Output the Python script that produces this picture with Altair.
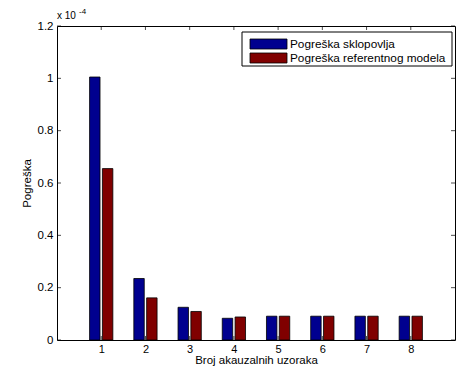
import altair as alt
import pandas as pd

categories = [1, 2, 3, 4, 5, 6, 7, 8]
series_names = ["Pogreška sklopovlja", "Pogreška referentnog modela"]
hw_error = [1.005, 0.235, 0.125, 0.083, 0.091, 0.091, 0.091, 0.091]
ref_error = [0.655, 0.161, 0.109, 0.088, 0.091, 0.091, 0.091, 0.091]
y_ticks = [0, 0.2, 0.4, 0.6, 0.8, 1.0, 1.2]
colors = ["#00008F", "#800000"]

W, H = 398, 314
FONT = "Liberation Sans"
FS = 11.5

rows = []
for k, a, b in zip(categories, hw_error, ref_error):
    rows.append({"k": k, "series": series_names[0], "value": a})
    rows.append({"k": k, "series": series_names[1], "value": b})
df = pd.DataFrame(rows)

xscale = alt.Scale(domain=[0, 9], nice=False, zero=False)
yscale = alt.Scale(domain=[0, 1.2], nice=False)
xaxis = alt.Axis(values=categories, title="Broj akauzalnih uzoraka",
                 labelPadding=3, labelFontSize=11, titleX=199, titleY=23.5,
                 titleBaseline="alphabetic", titleAlign="center")
yaxis = alt.Axis(values=y_ticks, format="~g", title="Pogreška",
                 labelPadding=4, titleX=-30, titleY=157, titleAngle=-90,
                 titleBaseline="middle", titleAlign="center")

bars = alt.Chart(df).transform_calculate(
    off=f"datum.series === '{series_names[0]}' ? -0.145 : 0.145"
).transform_calculate(
    x0="datum.k + datum.off - 0.118", x1="datum.k + datum.off + 0.118"
).mark_bar(stroke="black", strokeWidth=0.8).encode(
    x=alt.X("x0:Q", scale=xscale, axis=xaxis),
    x2="x1:Q",
    y=alt.Y("value:Q", scale=yscale, axis=yaxis),
    y2=alt.datum(0),
    color=alt.Color("series:N", scale=alt.Scale(domain=series_names, range=colors), legend=None),
)

ytick_df = pd.DataFrame({"value": y_ticks})
xtick_df = pd.DataFrame({"x0": categories})
tick_style = dict(thickness=1, size=4, color="black")

yt_left = alt.Chart(ytick_df).mark_tick(orient="horizontal", **tick_style).encode(
    y=alt.Y("value:Q", scale=yscale, axis=yaxis), x=alt.value(2))
yt_right = alt.Chart(ytick_df).mark_tick(orient="horizontal", **tick_style).encode(
    y=alt.Y("value:Q", scale=yscale, axis=yaxis), x=alt.value(W - 2))
xt_bottom = alt.Chart(xtick_df).mark_tick(orient="vertical", **tick_style).encode(
    x=alt.X("x0:Q", scale=xscale, axis=xaxis), y=alt.value(H - 2))
xt_top = alt.Chart(xtick_df).mark_tick(orient="vertical", **tick_style).encode(
    x=alt.X("x0:Q", scale=xscale, axis=xaxis), y=alt.value(2))

one = pd.DataFrame({"a": [0]})
mult = alt.Chart(one).mark_text(text="x 10", font=FONT, fontSize=10, align="left",
                                baseline="alphabetic", color="black").encode(
    x=alt.value(0), y=alt.value(-7))
mult_exp = alt.Chart(one).mark_text(text="-4", font=FONT, fontSize=8, align="left",
                                    baseline="alphabetic", color="black").encode(
    x=alt.value(22), y=alt.value(-12))

legend_box = alt.Chart(one).mark_rect(fill="white", stroke="black", strokeWidth=1).encode(
    x=alt.value(185), x2=alt.value(395), y=alt.value(6), y2=alt.value(40))
legend_layers = [legend_box]
for i, name in enumerate(series_names):
    legend_layers.append(
        alt.Chart(one).mark_rect(fill=colors[i], stroke="black", strokeWidth=0.8).encode(
            x=alt.value(193), x2=alt.value(230),
            y=alt.value(13 + 14 * i), y2=alt.value(23 + 14 * i)))
    legend_layers.append(
        alt.Chart(one).mark_text(text=name, font=FONT, fontSize=11.8, align="left",
                                 baseline="alphabetic", color="black").encode(
            x=alt.value(233), y=alt.value(21.5 + 14 * i)))

chart = alt.layer(
    bars, yt_left, yt_right, xt_bottom, xt_top, mult, mult_exp, *legend_layers
).properties(
    width=W, height=H,
    autosize=alt.AutoSizeParams(type="none"),
    padding={"left": 49, "top": 18, "right": 2, "bottom": 26},
    background="white",
).configure_view(
    stroke="black", strokeWidth=1
).configure_axis(
    domain=False, ticks=False, grid=False,
    labelFont=FONT, labelFontSize=FS, labelColor="black",
    titleFont=FONT, titleFontSize=FS, titleColor="black", titleFontWeight="normal",
)

chart.save("out.html", embed_options={"renderer": "svg", "actions": False})
